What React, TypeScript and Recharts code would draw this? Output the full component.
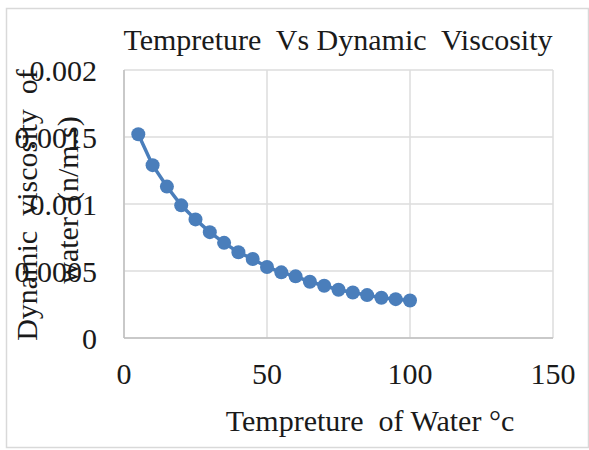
import React from 'react';
import { LineChart, Line, XAxis, YAxis, CartesianGrid } from 'recharts';

const temperatures = [5, 10, 15, 20, 25, 30, 35, 40, 45, 50, 55, 60, 65, 70, 75, 80, 85, 90, 95, 100];
const viscosities = [
  0.00152, 0.00129, 0.00113, 0.00099, 0.000885, 0.00079, 0.00071, 0.00064, 0.00059, 0.00053,
  0.00049, 0.00046, 0.00042, 0.00039, 0.00036, 0.00034, 0.00032, 0.0003, 0.00029, 0.00028,
];
const xTicks = [0, 50, 100, 150];
const yTicks = [0, 0.0005, 0.001, 0.0015, 0.002];
const yTickLabels = ['0', '0.0005', '0.001', '0.0015', '0.002'];

const chartTitle = 'Tempreture  Vs Dynamic  Viscosity';
const xTitle = 'Tempreture  of Water \u00B0c';
const yTitleLine1 = 'Dynamic  viscosity  of';
const yTitleLine2 = 'water  (n/m.s)';

const data = temperatures.map((t, i) => ({ t, mu: viscosities[i] }));

const FONT = '"Liberation Serif", "Times New Roman", serif';
const BLUE = '#4a7ebb';
const TEXT = '#1a1a1a';

export default function App() {
  return (
    <div style={{ position: 'absolute', left: 0, top: 0, width: 589, height: 450, background: '#fff' }}>
      <LineChart
        width={589}
        height={450}
        data={data}
        margin={{ top: 70, right: 36, bottom: 0, left: 0 }}
      >
        <CartesianGrid stroke="#dcdcdc" strokeWidth={1.5} />
        <XAxis
          type="number"
          dataKey="t"
          domain={[0, 150]}
          ticks={xTicks}
          height={112}
          tickSize={0}
          tickMargin={25}
          axisLine={{ stroke: '#bfbfbf', strokeWidth: 1.5 }}
          tick={{ fill: TEXT, fontSize: 30, fontFamily: FONT }}
          interval={0}
        />
        <YAxis
          type="number"
          domain={[0, 0.002]}
          ticks={yTicks}
          width={124}
          tickSize={0}
          tickMargin={27}
          axisLine={{ stroke: '#bfbfbf', strokeWidth: 1.5 }}
          tick={{ fill: TEXT, fontSize: 30, fontFamily: FONT }}
          tickFormatter={(v: number) => yTickLabels[yTicks.indexOf(v)] ?? String(v)}
          interval={0}
        />
        <Line
          type="linear"
          dataKey="mu"
          stroke={BLUE}
          strokeWidth={3.5}
          dot={{ r: 7, fill: BLUE, stroke: BLUE, strokeWidth: 0 }}
          activeDot={false}
          isAnimationActive={false}
        />
      </LineChart>
      <svg
        width={589}
        height={450}
        style={{ position: 'absolute', left: 0, top: 0, pointerEvents: 'none' }}
      >
        <rect x={6.5} y={8.5} width={582} height={439} fill="none" stroke="#d9d9d9" strokeWidth={1.5} />
        <text
          x={338}
          y={50}
          textAnchor="middle"
          fontFamily={FONT}
          fontSize={30}
          fill={TEXT}
          style={{ whiteSpace: 'pre' }}
        >
          {chartTitle}
        </text>
        <text
          x={370}
          y={431}
          textAnchor="middle"
          fontFamily={FONT}
          fontSize={30}
          fill={TEXT}
          style={{ whiteSpace: 'pre' }}
        >
          {xTitle}
        </text>
        <text
          transform="translate(37,205) rotate(-90)"
          textAnchor="middle"
          fontFamily={FONT}
          fontSize={30}
          fill={TEXT}
          style={{ whiteSpace: 'pre' }}
        >
          {yTitleLine1}
        </text>
        <text
          transform="translate(78,200) rotate(-90)"
          textAnchor="middle"
          fontFamily={FONT}
          fontSize={30}
          fill={TEXT}
          style={{ whiteSpace: 'pre' }}
        >
          {yTitleLine2}
        </text>
      </svg>
    </div>
  );
}
